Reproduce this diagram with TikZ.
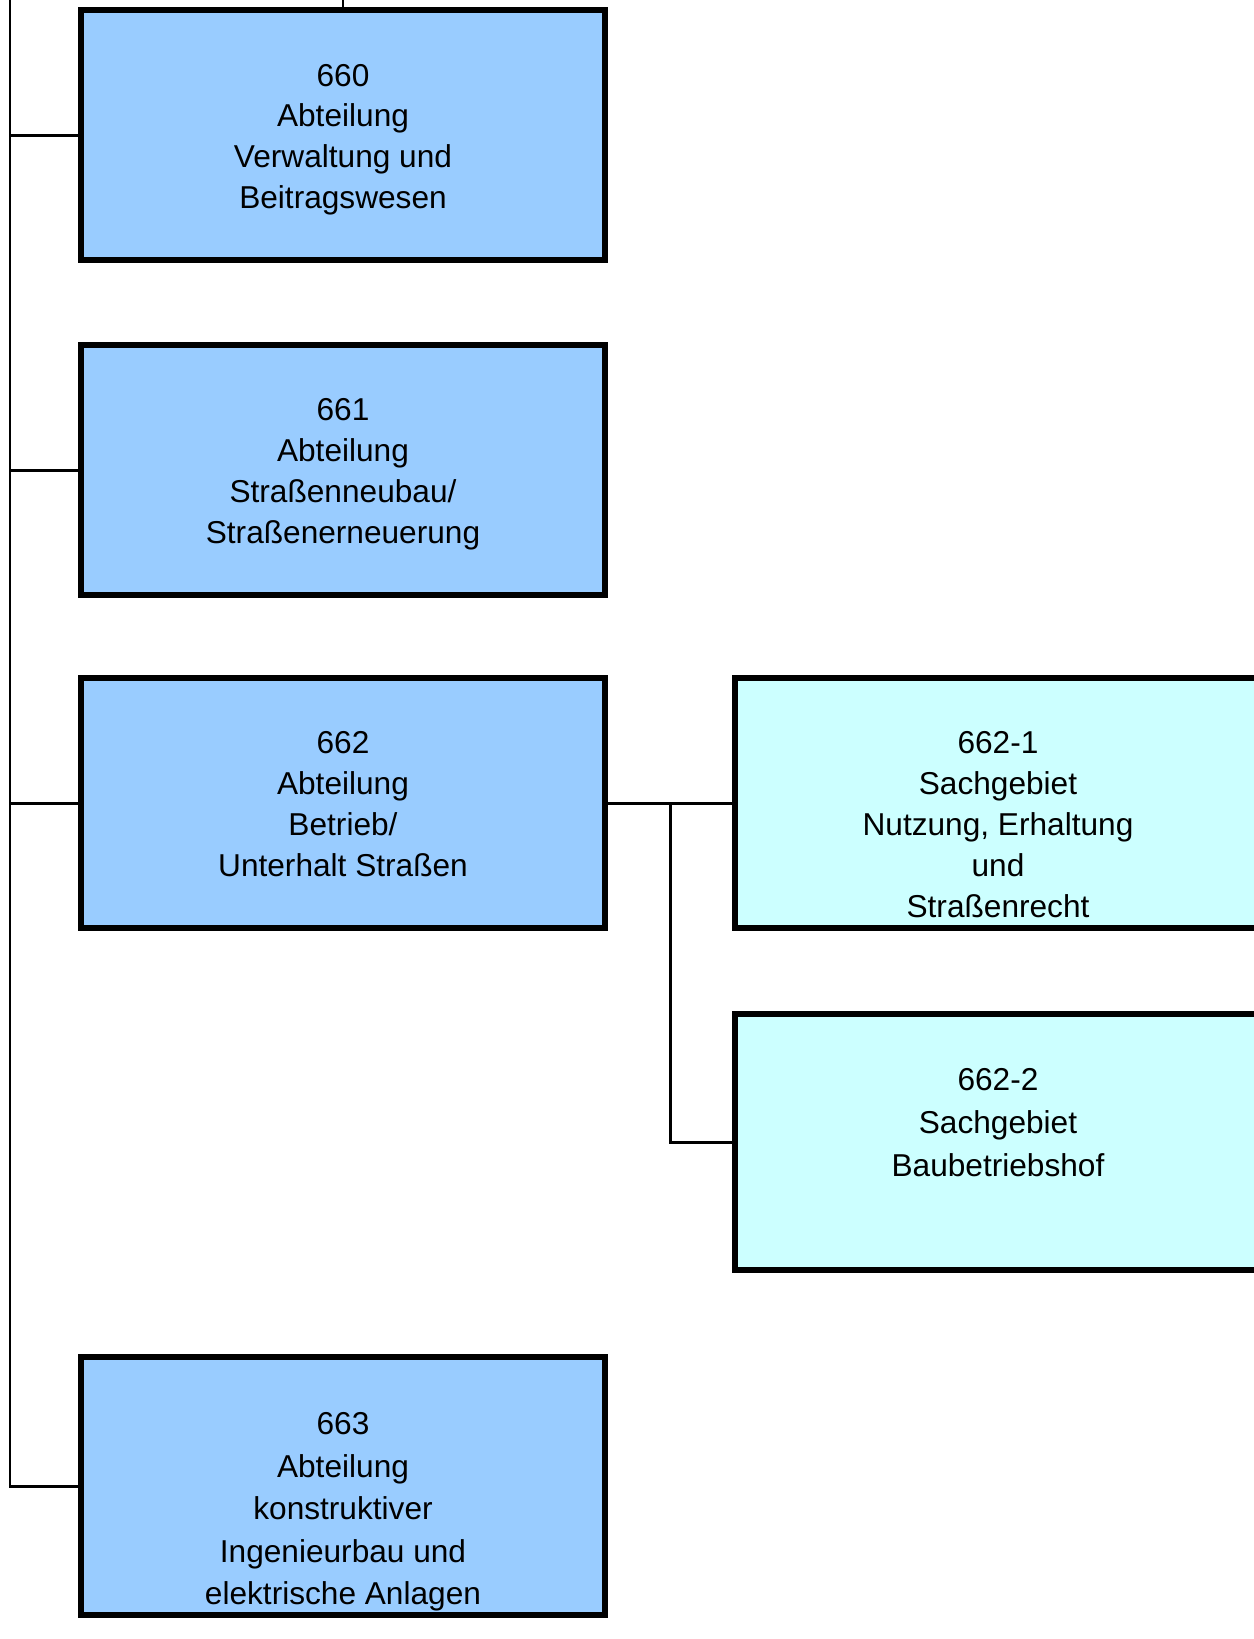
\documentclass[tikz,border=0pt]{standalone}
\usepackage{fontspec}
\setmainfont{Liberation Sans}
\usepackage{tikz}
\usetikzlibrary{positioning, calc}

\begin{document}
\begin{tikzpicture}[scale=1]
\definecolor{abtblue}{RGB}{153,204,255};
\definecolor{sgcyan}{RGB}{204,255,255};
\useasboundingbox (0,0) rectangle (12.54,-16.39);
\tikzstyle{every node}=[draw=black,line width=1.7pt,shape=rectangle,outer sep=0pt,minimum width=5.24cm,minimum height=2.5cm];
\node[fill=abtblue] (660) at (3.43,-1.3525) {};
\node[fill=abtblue] (661) at (3.43,-4.70) {};
\node[fill=abtblue] (662) at (3.43,-8.03) {};
\node[fill=abtblue,minimum height=2.58cm] (663) at (3.43,-14.86) {};
\node[fill=sgcyan,minimum width=5.26cm] (6621) at (9.98,-8.03) {};
\node[fill=sgcyan,minimum width=5.26cm,minimum height=2.56cm] (6622) at (9.98,-11.42) {};
\tikzstyle{every node}=[draw=none,inner sep=0pt,align=center,font=\fontsize{9}{11.64}\selectfont];
\node[below=0.53cm of 660.north] (t660) {660\\Abteilung\\Verwaltung und\\ Beitragswesen};
\node[below=0.53cm of 661.north] (t661) {661\\Abteilung\\Straßenneubau/\\Straßenerneuerung};
\node[below=0.53cm of 662.north] (t662) {662\\Abteilung\\Betrieb/\\Unterhalt Straßen};
\node[below=0.55cm of 663.north,font=\fontsize{9}{12.1}\selectfont] (t663) {663\\Abteilung\\konstruktiver\\Ingenieurbau und\\elektrische Anlagen};
\node[below=0.53cm of 6621.north] (t6621) {662-1\\Sachgebiet\\Nutzung, Erhaltung\\und\\Straßenrecht};
\node[below=0.54cm of 6622.north,font=\fontsize{9}{12.2}\selectfont] (t6622) {662-2\\Sachgebiet\\Baubetriebshof};
\tikzstyle{every path}=[line width=0.85pt];
\coordinate (top) at (3.43,0);
\coordinate (rail) at (0.10,0);
\coordinate (fork) at (6.705,0);
\draw (top) -- (660.north);
\draw (rail) |- (663.west);
\foreach \n in {660,661,662}
\draw (rail |- \n.west) -- (\n.west);
\draw (662.east) -- (6621.west);
\draw (fork |- 662.east) |- (6622.west);
\end{tikzpicture}
\end{document}
